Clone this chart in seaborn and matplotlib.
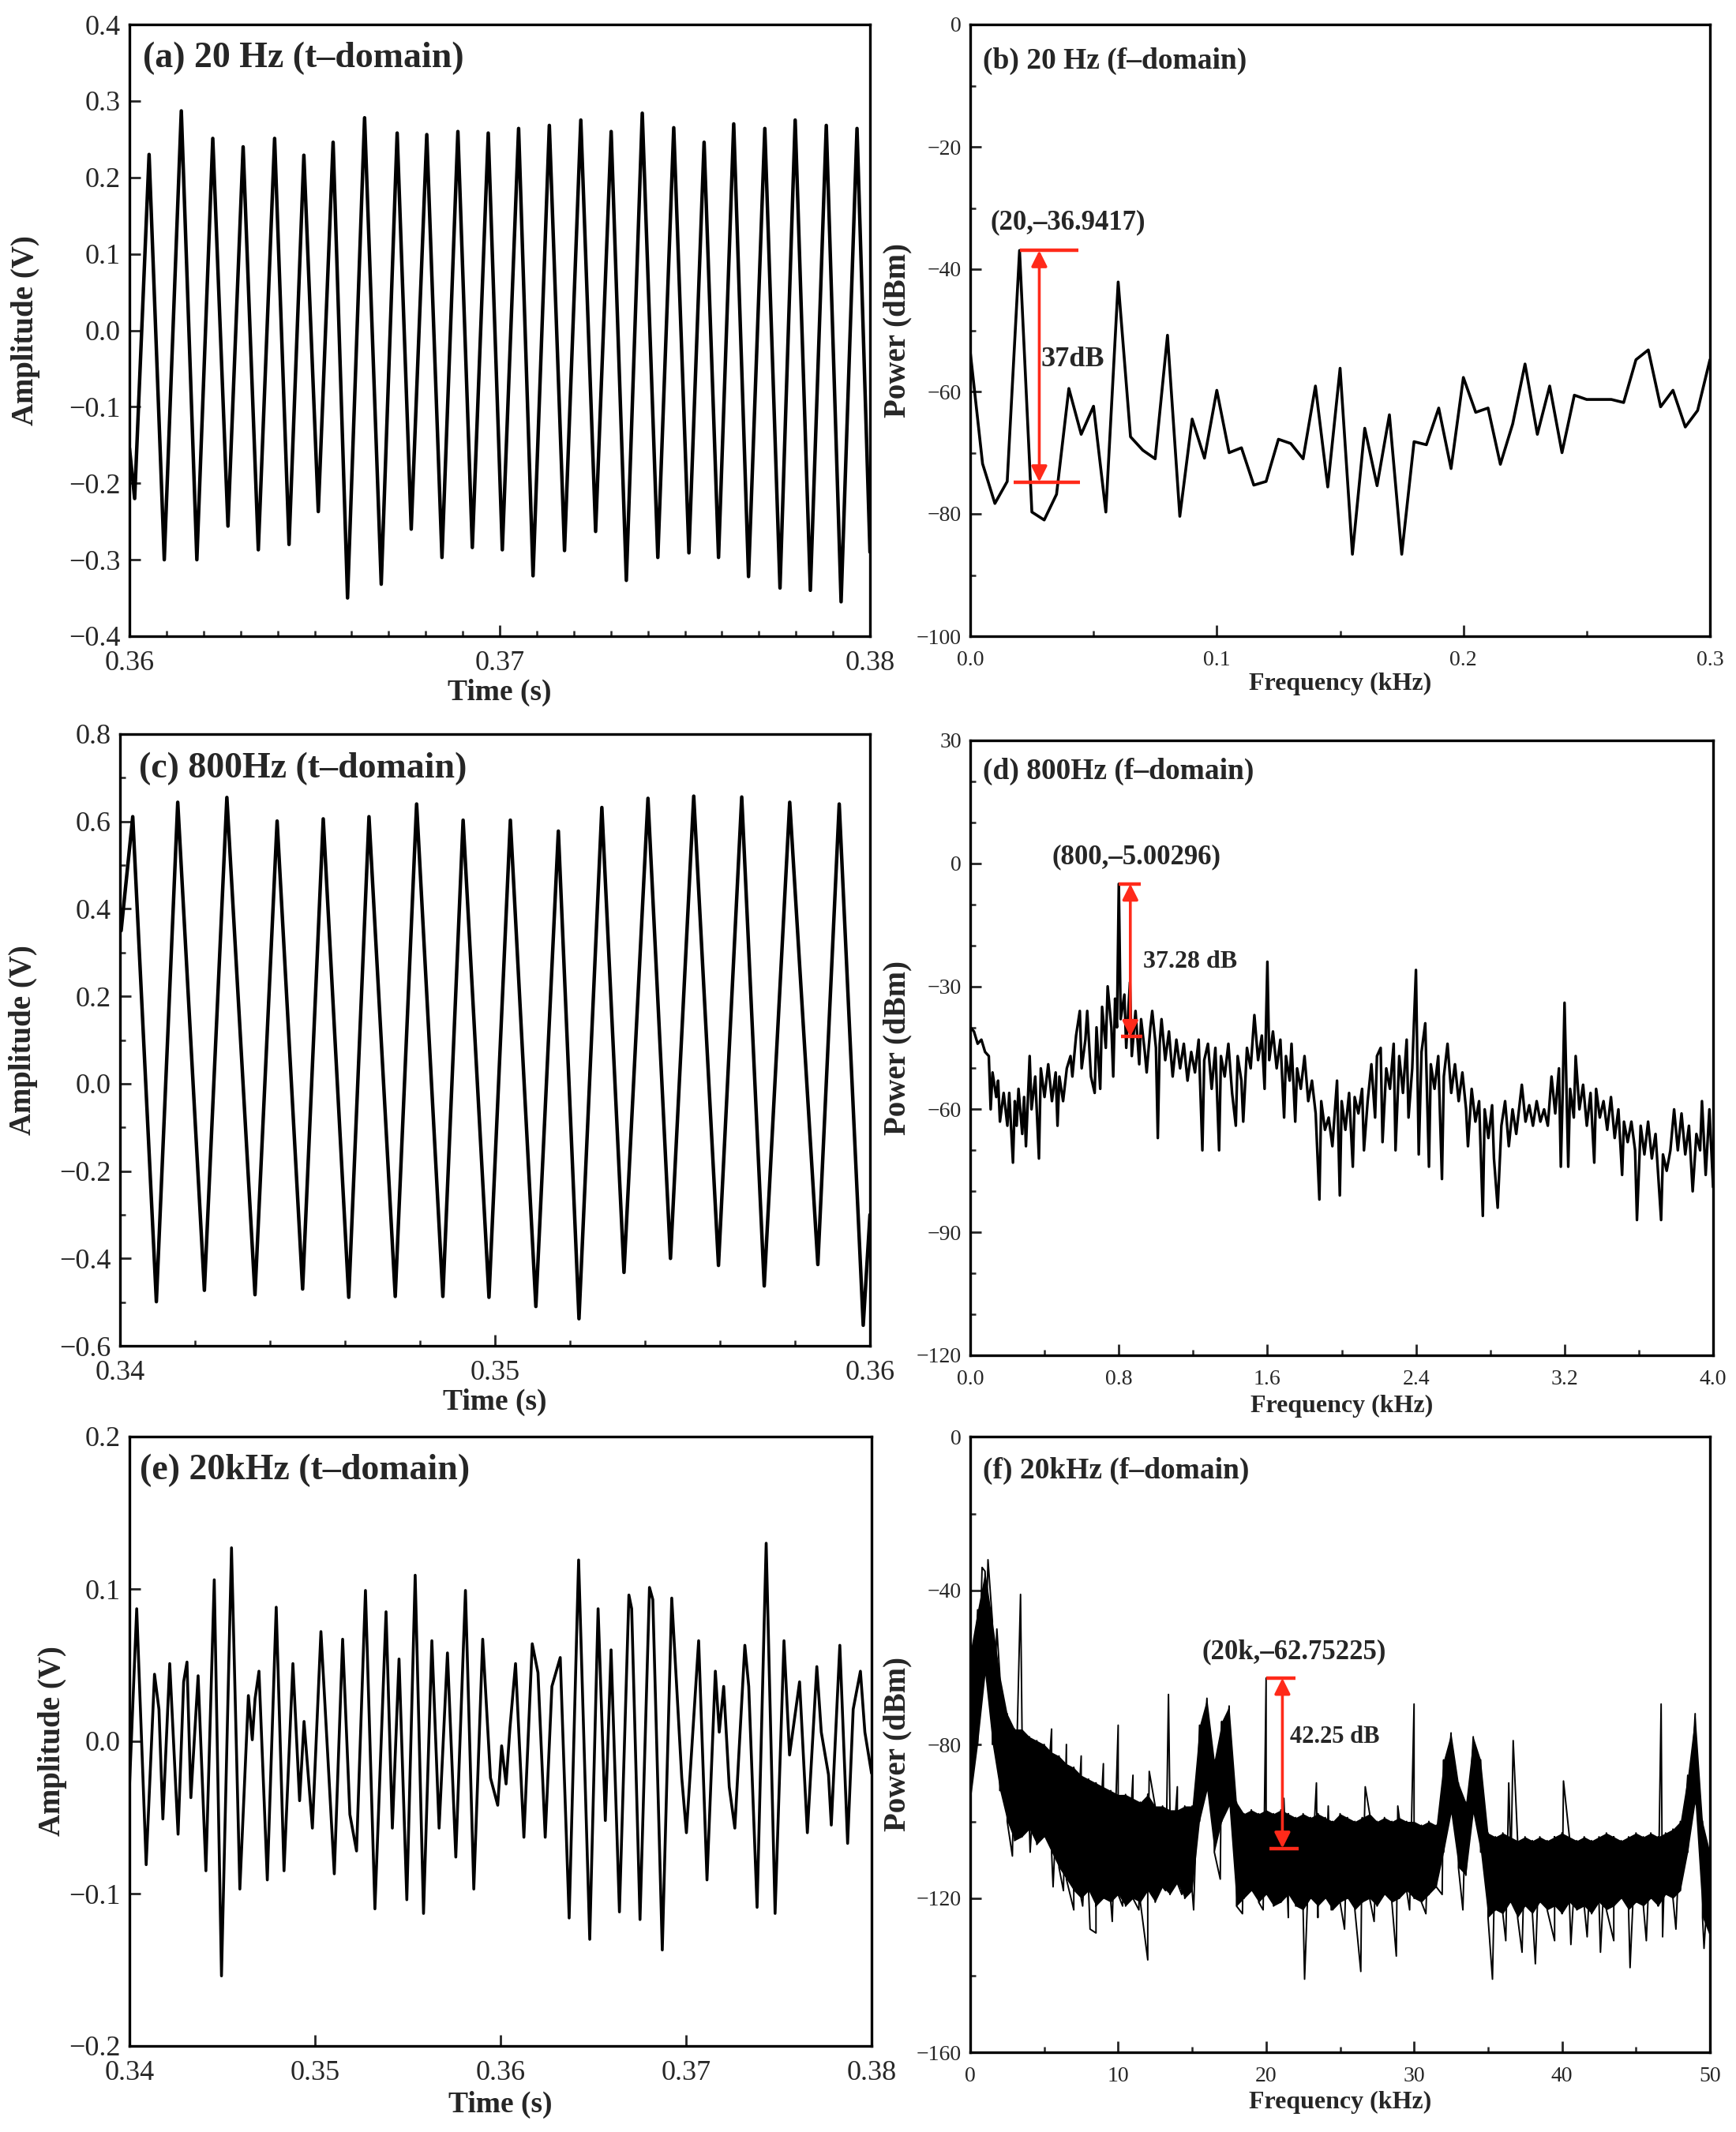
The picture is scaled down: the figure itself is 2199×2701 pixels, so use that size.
import numpy as np
import pandas as pd
import matplotlib
matplotlib.use("Agg")
import matplotlib.pyplot as plt
import seaborn as sns
from matplotlib.ticker import MultipleLocator, FixedLocator, FuncFormatter

# ---------------- data ----------------
# (a) 20 Hz time domain: extrema of the waveform
a_time = [0.36000, 0.36014, 0.36053, 0.36094, 0.36140, 0.36182, 0.36225, 0.36266, 0.36307, 0.36348,
          0.36392, 0.36431, 0.36471, 0.36510, 0.36550, 0.36589, 0.36635, 0.36680, 0.36723, 0.36761,
          0.36803, 0.36844, 0.36887, 0.36926, 0.36969, 0.37007, 0.37051, 0.37090, 0.37134, 0.37175,
          0.37219, 0.37259, 0.37301, 0.37342, 0.37385, 0.37427, 0.37470, 0.37511, 0.37552, 0.37591,
          0.37632, 0.37672, 0.37716, 0.37757, 0.37798, 0.37839, 0.37882, 0.37922, 0.37965, 0.38000]
a_amp = [-0.154, -0.22, 0.23, -0.30, 0.287, -0.30, 0.251, -0.256, 0.24, -0.287,
         0.251, -0.28, 0.229, -0.237, 0.246, -0.35, 0.278, -0.332, 0.258, -0.26,
         0.256, -0.297, 0.26, -0.284, 0.258, -0.287, 0.264, -0.321, 0.268, -0.288,
         0.275, -0.263, 0.26, -0.327, 0.284, -0.297, 0.265, -0.291, 0.246, -0.297,
         0.27, -0.322, 0.264, -0.337, 0.275, -0.34, 0.268, -0.355, 0.264, -0.29]

# (b) 20 Hz spectrum
b_freq = [0.000, 0.005, 0.010, 0.015, 0.020, 0.025, 0.030, 0.035, 0.040, 0.045,
          0.050, 0.055, 0.060, 0.065, 0.070, 0.075, 0.080, 0.085, 0.090, 0.095,
          0.100, 0.105, 0.110, 0.115, 0.120, 0.125, 0.130, 0.135, 0.140, 0.145,
          0.150, 0.155, 0.160, 0.165, 0.170, 0.175, 0.180, 0.185, 0.190, 0.195,
          0.200, 0.205, 0.210, 0.215, 0.220, 0.225, 0.230, 0.235, 0.240, 0.245,
          0.250, 0.255, 0.260, 0.265, 0.270, 0.275, 0.280, 0.285, 0.290, 0.295, 0.300]
b_power = [-53.5, -71.8, -78.3, -74.7, -36.9417, -79.7, -81.0, -76.8, -59.5, -67.0,
           -62.4, -79.7, -42.1, -67.4, -69.6, -71.0, -50.8, -80.4, -64.5, -70.9,
           -59.8, -70.0, -69.2, -75.3, -74.7, -67.8, -68.5, -71.0, -59.1, -75.6,
           -56.2, -86.6, -66.0, -75.4, -63.8, -86.6, -68.2, -68.7, -62.7, -72.6,
           -57.7, -63.4, -62.7, -71.9, -65.3, -55.5, -67.0, -59.1, -70.0, -60.6,
           -61.3, -61.3, -61.3, -61.8, -54.8, -53.2, -62.5, -59.8, -65.8, -63.1, -54.8]

# (c) 800 Hz time domain: extrema of the waveform
c_time = [0.34003, 0.34034, 0.34097, 0.34154, 0.34225, 0.34285, 0.34360, 0.34419, 0.34487, 0.34542,
          0.34610, 0.34664, 0.34734, 0.34791, 0.34861, 0.34915, 0.34984, 0.35041, 0.35109, 0.35169,
          0.35224, 0.35285, 0.35344, 0.35408, 0.35468, 0.35530, 0.35596, 0.35658, 0.35718, 0.35786,
          0.35861, 0.35918, 0.35982, 0.36000]
c_amp = [0.35, 0.611, -0.499, 0.644, -0.473, 0.655, -0.483, 0.601, -0.47, 0.606,
         -0.489, 0.611, -0.487, 0.64, -0.487, 0.603, -0.489, 0.603, -0.51, 0.578,
         -0.538, 0.632, -0.432, 0.653, -0.40, 0.658, -0.416, 0.656, -0.463, 0.644,
         -0.414, 0.64, -0.553, -0.30]

# (d) 800 Hz spectrum
d_freq = [0.00, 0.02, 0.04, 0.06, 0.08, 0.10, 0.11, 0.12, 0.14, 0.15,
          0.16, 0.18, 0.19, 0.20, 0.21, 0.23, 0.24, 0.25, 0.26, 0.28,
          0.29, 0.30, 0.31, 0.32, 0.33, 0.35, 0.37, 0.38, 0.40, 0.42,
          0.44, 0.46, 0.47, 0.48, 0.50, 0.52, 0.54, 0.55, 0.57, 0.59,
          0.60, 0.62, 0.63, 0.65, 0.67, 0.68, 0.70, 0.71, 0.73, 0.74,
          0.76, 0.77, 0.78, 0.79, 0.80, 0.81, 0.83, 0.84, 0.86, 0.87,
          0.89, 0.91, 0.92, 0.94, 0.95, 0.97, 0.98, 1.00, 1.01, 1.02,
          1.03, 1.05, 1.07, 1.09, 1.11, 1.13, 1.15, 1.17, 1.19, 1.21,
          1.23, 1.25, 1.26, 1.28, 1.30, 1.32, 1.34, 1.35, 1.37, 1.39,
          1.41, 1.43, 1.44, 1.46, 1.47, 1.49, 1.51, 1.53, 1.55, 1.57,
          1.585, 1.60, 1.61, 1.63, 1.65, 1.67, 1.69, 1.70, 1.72, 1.73,
          1.75, 1.76, 1.78, 1.80, 1.82, 1.84, 1.86, 1.88, 1.89, 1.91,
          1.93, 1.95, 1.975, 1.99, 2.00, 2.02, 2.04, 2.06, 2.07, 2.09,
          2.11, 2.12, 2.14, 2.16, 2.18, 2.19, 2.21, 2.22, 2.24, 2.26,
          2.28, 2.29, 2.31, 2.33, 2.35, 2.36, 2.38, 2.40, 2.415, 2.43,
          2.45, 2.47, 2.48, 2.50, 2.52, 2.54, 2.55, 2.57, 2.59, 2.61,
          2.63, 2.65, 2.67, 2.68, 2.70, 2.72, 2.74, 2.76, 2.77, 2.79,
          2.81, 2.82, 2.84, 2.86, 2.88, 2.90, 2.92, 2.94, 2.96, 2.97,
          2.99, 3.01, 3.03, 3.05, 3.07, 3.09, 3.11, 3.13, 3.15, 3.17,
          3.18, 3.19, 3.20, 3.22, 3.23, 3.25, 3.26, 3.28, 3.30, 3.32,
          3.34, 3.36, 3.37, 3.39, 3.41, 3.43, 3.45, 3.47, 3.49, 3.51,
          3.52, 3.54, 3.56, 3.58, 3.59, 3.61, 3.63, 3.65, 3.67, 3.69,
          3.72, 3.73, 3.75, 3.77, 3.79, 3.81, 3.83, 3.85, 3.87, 3.89,
          3.91, 3.93, 3.94, 3.96, 3.98, 4.00]
d_power = [-40, -41, -44, -43, -46, -47, -60, -51, -57, -53,
           -63, -56, -60, -64, -56, -73, -58, -64, -55, -66,
           -57, -69, -58, -47, -60, -52, -72, -50, -57, -49,
           -58, -51, -64, -52, -58, -50, -47, -52, -42, -36,
           -50, -43, -36, -52, -56, -40, -55, -35, -45, -30,
           -40, -52, -33, -40, -5.003, -38, -32, -45, -29, -47,
           -36, -49, -38, -46, -51, -40, -36, -45, -67, -44,
           -38, -48, -41, -52, -43, -50, -44, -53, -46, -51,
           -43, -70, -48, -44, -55, -45, -70, -47, -52, -44,
           -56, -64, -47, -53, -63, -45, -50, -37, -48, -42,
           -55, -24, -48, -41, -50, -43, -62, -47, -53, -44,
           -63, -50, -55, -47, -58, -53, -61, -82, -58, -65,
           -62, -69, -53, -81, -58, -65, -56, -74, -57, -61,
           -55, -70, -58, -49, -62, -47, -45, -68, -50, -55,
           -44, -70, -47, -56, -43, -62, -50, -26, -71, -46,
           -39, -74, -49, -55, -47, -77, -52, -44, -56, -49,
           -58, -51, -60, -69, -55, -63, -58, -86, -60, -67,
           -59, -72, -84, -64, -58, -69, -60, -66, -58, -54,
           -63, -59, -64, -58, -63, -60, -64, -52, -61, -50,
           -74, -56, -34, -74, -55, -62, -47, -60, -54, -64,
           -56, -73, -55, -62, -58, -65, -57, -67, -60, -76,
           -63, -68, -63, -70, -87, -64, -71, -63, -72, -66,
           -87, -71, -75, -70, -60, -70, -61, -71, -64, -80,
           -66, -70, -58, -76, -60, -79]

# (e) 20 kHz time domain: extrema of the waveform
e_time = [0.34000, 0.34039, 0.34090, 0.34135, 0.34159, 0.34180, 0.34217, 0.34262, 0.34292, 0.34310,
          0.34331, 0.34370, 0.34412, 0.34457, 0.34496, 0.34550, 0.34595, 0.34641, 0.34662, 0.34677,
          0.34698, 0.34743, 0.34791, 0.34833, 0.34881, 0.34917, 0.34941, 0.34986, 0.35032, 0.35104,
          0.35149, 0.35188, 0.35224, 0.35272, 0.35323, 0.35383, 0.35417, 0.35453, 0.35495, 0.35540,
          0.35585, 0.35630, 0.35669, 0.35714, 0.35759, 0.35811, 0.35856, 0.35904, 0.35946, 0.35985,
          0.36006, 0.36030, 0.36051, 0.36081, 0.36126, 0.36171, 0.36202, 0.36241, 0.36277, 0.36322,
          0.36370, 0.36421, 0.36481, 0.36526, 0.36565, 0.36596, 0.36641, 0.36692, 0.36707, 0.36752,
          0.36803, 0.36821, 0.36872, 0.36923, 0.36977, 0.37002, 0.37068, 0.37113, 0.37158, 0.37179,
          0.37203, 0.37233, 0.37263, 0.37317, 0.37338, 0.37383, 0.37432, 0.37480, 0.37528, 0.37558,
          0.37612, 0.37654, 0.37705, 0.37729, 0.37768, 0.37783, 0.37829, 0.37871, 0.37901, 0.37940,
          0.37964, 0.38000]
e_amp = [-0.03, 0.087, -0.081, 0.044, 0.021, -0.051, 0.051, -0.061, 0.039, 0.052,
         -0.037, 0.043, -0.085, 0.106, -0.154, 0.127, -0.097, 0.03, 0.001, 0.028,
         0.046, -0.091, 0.088, -0.085, 0.051, -0.039, 0.013, -0.057, 0.072, -0.087,
         0.067, -0.048, -0.072, 0.099, -0.11, 0.085, -0.057, 0.054, -0.104, 0.109,
         -0.113, 0.066, -0.057, 0.058, -0.076, 0.099, -0.097, 0.067, -0.024, -0.042,
         -0.003, -0.028, 0.009, 0.051, -0.063, 0.064, 0.045, -0.063, 0.036, 0.055,
         -0.116, 0.119, -0.13, 0.087, -0.052, 0.06, -0.112, 0.096, 0.087, -0.117,
         0.101, 0.093, -0.137, 0.094, -0.024, -0.06, 0.066, -0.091, 0.046, 0.006,
         0.036, -0.03, -0.057, 0.063, 0.036, -0.109, 0.13, -0.113, 0.066, -0.009,
         0.039, -0.06, 0.049, 0.006, -0.022, -0.055, 0.063, -0.067, 0.021, 0.046,
         0.006, -0.021]

# (f) 20 kHz spectrum: upper / lower edge of the dense noise band plus isolated spikes
f_env_freq = [0.0, 0.5, 1.0, 1.5, 2.0, 2.5, 3.0, 3.5, 4.0, 4.5,
              5.0, 5.5, 6.0, 6.5, 7.0, 7.5, 8.0, 8.5, 9.0, 9.5,
              10.0, 10.5, 11.0, 11.5, 12.0, 12.5, 13.0, 13.5, 14.0, 14.5,
              15.0, 15.5, 16.0, 16.5, 17.0, 17.5, 18.0, 18.5, 19.0, 19.5,
              20.0, 20.5, 21.0, 21.5, 22.0, 22.5, 23.0, 23.5, 24.0, 24.5,
              25.0, 25.5, 26.0, 26.5, 27.0, 27.5, 28.0, 28.5, 29.0, 29.5,
              30.0, 30.5, 31.0, 31.5, 32.0, 32.5, 33.0, 33.5, 34.0, 34.5,
              35.0, 35.5, 36.0, 36.5, 37.0, 37.5, 38.0, 38.5, 39.0, 39.5,
              40.0, 40.5, 41.0, 41.5, 42.0, 42.5, 43.0, 43.5, 44.0, 44.5,
              45.0, 45.5, 46.0, 46.5, 47.0, 47.5, 48.0, 48.5, 49.0, 49.5, 50.0]
f_upper = [-56, -45, -35, -48, -62, -72, -76, -76, -78, -79,
           -80, -82, -83, -85, -86, -88, -89, -90, -91, -92,
           -93, -93, -94, -95, -93, -96, -96, -97, -97, -96,
           -96, -75, -68, -84, -74, -70, -95, -98, -97, -98,
           -97, -98, -97, -98, -99, -98, -99, -98, -99, -100,
           -98, -99, -100, -99, -98, -100, -99, -100, -99, -100,
           -100, -101, -100, -101, -84, -77, -90, -95, -78, -84,
           -103, -104, -103, -104, -105, -104, -105, -104, -105, -104,
           -103, -104, -105, -104, -105, -104, -103, -104, -105, -104,
           -103, -104, -103, -104, -103, -102, -100, -88, -72, -100, -108]
f_lower = [-95, -80, -62, -80, -92, -100, -105, -104, -102, -106,
           -104, -108, -112, -115, -118, -120, -118, -122, -120, -121,
           -119, -122, -120, -121, -118, -121, -117, -119, -116, -120,
           -118, -100, -92, -108, -100, -96, -122, -120, -118, -121,
           -119, -122, -121, -119, -122, -123, -120, -122, -120, -123,
           -121, -120, -123, -121, -120, -122, -119, -121, -120, -118,
           -120, -121, -119, -117, -108, -98, -112, -114, -98, -108,
           -125, -123, -124, -121, -125, -122, -124, -121, -123, -122,
           -124, -121, -123, -122, -124, -121, -123, -122, -120, -123,
           -121, -122, -120, -122, -119, -120, -118, -108, -95, -125, -130]
f_spike_freq = [0.8, 1.2, 1.8, 2.85, 3.4, 4.05, 5.5, 5.6, 6.3, 6.5,
                7.0, 7.5, 7.6, 8.1, 8.5, 9.0, 9.6, 10.0, 10.3, 11.0,
                11.4, 12.0, 12.1, 13.2, 13.4, 14.0, 14.3, 15.1, 16.9, 18.4,
                19.8, 20.0, 21.2, 21.5, 22.6, 23.4, 23.5, 24.2, 24.4, 25.3,
                26.4, 26.7, 27.3, 28.8, 28.9, 29.7, 30.0, 30.8, 31.9, 33.3,
                35.3, 36.2, 36.4, 36.7, 37.3, 38.2, 39.5, 40.1, 40.6, 41.7,
                42.6, 43.5, 44.6, 45.7, 46.7, 46.8, 47.7, 49.6]
f_spike_power = [-34, -32, -50, -109, -41, -108, -76, -117, -118, -80,
                 -123, -83, -122, -128, -129, -85, -126, -75, -122, -88,
                 -123, -136, -87, -118, -67, -91, -119, -123, -115, -124,
                 -123, -62.75225, -94, -125, -141, -90, -125, -96, -123, -128,
                 -139, -91, -126, -135, -96, -123, -69.5, -124, -119, -123,
                 -141, -131, -90, -79, -134, -137, -131, -89.5, -132, -130,
                 -134, -131, -138, -131, -69.5, -130, -128, -133]

# annotation values
b_peak = (0.020, -36.9417)
b_floor = -74.8
d_peak = (0.8, -5.00296)
d_floor = -42.28
f_peak = (20.0, -62.75225)
f_floor = -107.0

# ---------------- styling ----------------
sns.set_theme(style="ticks")
plt.rcParams["font.family"] = ["Liberation Serif", "DejaVu Serif"]
plt.rcParams["axes.unicode_minus"] = True

RED = "#ff2a1a"
W, H = 2199, 2701
fig = plt.figure(figsize=(W / 100, H / 100), dpi=100)


def box(l, r, t, b):
    return [l / W, 1 - b / H, (r - l) / W, (b - t) / H]


ax_a = fig.add_axes(box(164, 1102, 31, 806))
ax_b = fig.add_axes(box(1229, 2166, 31, 806))
ax_c = fig.add_axes(box(152, 1102, 930, 1705))
ax_d = fig.add_axes(box(1229, 2170, 938, 1717))
ax_e = fig.add_axes(box(164, 1104, 1820, 2592))
ax_f = fig.add_axes(box(1229, 2166, 1820, 2600))


def fmt(dec):
    def f(v, _):
        s = f"{v:.{dec}f}"
        if float(s) == 0:
            s = f"{0:.{dec}f}"
        return s.replace("-", "\u2212")
    return FuncFormatter(f)


def style(ax, xlim, ylim, xt, yt, xminor, yminor, xdec, ydec, tfs, xlabel, ylabel, lfs, ylfs,
          xpad, ypad, title, tsz, tx, ty):
    ax.set_xlim(*xlim)
    ax.set_ylim(*ylim)
    ax.xaxis.set_major_locator(FixedLocator(xt))
    ax.yaxis.set_major_locator(FixedLocator(yt))
    if xminor:
        ax.xaxis.set_minor_locator(MultipleLocator(xminor))
    if yminor:
        ax.yaxis.set_minor_locator(MultipleLocator(yminor))
    ax.xaxis.set_major_formatter(fmt(xdec))
    ax.yaxis.set_major_formatter(fmt(ydec))
    ax.tick_params(which="major", direction="in", length=10, width=2, labelsize=tfs, pad=8,
                   top=False, right=False)
    ax.tick_params(axis="x", which="major", pad=13)
    ax.tick_params(which="minor", direction="in", length=5, width=1.8, top=False, right=False)
    for s in ax.spines.values():
        s.set_linewidth(2.4)
        s.set_color("black")
    ax.set_xlabel(xlabel, fontsize=lfs, fontweight="bold", labelpad=xpad)
    ax.set_ylabel(ylabel, fontsize=ylfs, fontweight="bold", labelpad=ypad)
    ax.text(tx, ty, title, transform=ax.transAxes, fontsize=tsz, fontweight="bold",
            ha="left", va="center")


def line(ax, x, y, lw):
    sns.lineplot(x=x, y=y, ax=ax, color="black", linewidth=lw, estimator=None,
                 sort=False, legend=False)


def arrow(ax, x, y0, y1):
    ax.annotate("", xy=(x, y0), xytext=(x, y1),
                arrowprops=dict(arrowstyle="<|-|>", color=RED, lw=2.6, mutation_scale=30,
                                shrinkA=0, shrinkB=0))


# (a)
line(ax_a, a_time, a_amp, 3.2)
style(ax_a, (0.36, 0.38), (-0.4, 0.4), [0.36, 0.37, 0.38],
      [-0.4, -0.3, -0.2, -0.1, 0.0, 0.1, 0.2, 0.3, 0.4], 0.001, None, 2, 1, 26,
      "Time (s)", "Amplitude (V)", 27, 28, 2, 26, "(a) 20 Hz (t\u2013domain)", 33, 0.018, 0.945)

# (b)
line(ax_b, b_freq, b_power, 2.6)
style(ax_b, (0.0, 0.3), (-100, 0), [0.0, 0.1, 0.2, 0.3], [-100, -80, -60, -40, -20, 0],
      0.05, 10, 1, 0, 20, "Frequency (kHz)", "Power (dBm)", 23, 28, 2, 4,
      "(b) 20 Hz (f\u2013domain)", 27, 0.017, 0.94)
ax_b.plot([0.0202, 0.044], [b_peak[1], b_peak[1]], color=RED, lw=3.2, solid_capstyle="butt")
ax_b.plot([0.0176, 0.0444], [b_floor, b_floor], color=RED, lw=3.2, solid_capstyle="butt")
arrow(ax_b, 0.028, b_peak[1], b_floor)
ax_b.text(0.0286, -54.8, "37dB", fontsize=26, fontweight="bold", ha="left", va="center")
ax_b.text(0.0396, -32.3, "(20,\u201336.9417)", fontsize=25, fontweight="bold",
          ha="center", va="center")

# (c)
line(ax_c, c_time, c_amp, 3.2)
style(ax_c, (0.34, 0.36), (-0.6, 0.8), [0.34, 0.35, 0.36],
      [-0.6, -0.4, -0.2, 0.0, 0.2, 0.4, 0.6, 0.8], 0.002, 0.1, 2, 1, 26,
      "Time (s)", "Amplitude (V)", 27, 28, 2, 20, "(c) 800Hz (t\u2013domain)", 33, 0.025, 0.944)

# (d)
line(ax_d, d_freq, d_power, 2.4)
style(ax_d, (0.0, 4.0), (-120, 30), [0.0, 0.8, 1.6, 2.4, 3.2, 4.0],
      [-120, -90, -60, -30, 0, 30], 0.4, 10, 1, 0, 20, "Frequency (kHz)", "Power (dBm)", 23, 28,
      5, 4, "(d) 800Hz (f\u2013domain)", 27, 0.017, 0.949)
ax_d.plot([0.80, 0.92], [d_peak[1], d_peak[1]], color=RED, lw=3.2, solid_capstyle="butt")
ax_d.plot([0.81, 0.925], [d_floor, d_floor], color=RED, lw=3.2, solid_capstyle="butt")
arrow(ax_d, 0.862, d_peak[1], d_floor)
ax_d.text(0.93, -24, "37.28 dB", fontsize=23, fontweight="bold", ha="left", va="center")
ax_d.text(0.894, 1.5, "(800,\u20135.00296)", fontsize=25, fontweight="bold",
          ha="center", va="center")

# (e)
line(ax_e, e_time, e_amp, 2.6)
style(ax_e, (0.34, 0.38), (-0.2, 0.2), [0.34, 0.35, 0.36, 0.37, 0.38],
      [-0.2, -0.1, 0.0, 0.1, 0.2], None, None, 2, 1, 26,
      "Time (s)", "Amplitude (V)", 27, 28, 4, 2, "(e) 20kHz (t\u2013domain)", 33, 0.014, 0.944)

# (f)
ax_f.fill_between(f_env_freq, f_upper, f_lower, color="black", lw=0)
zig = pd.DataFrame({
    "freq": list(f_env_freq) + list(f_env_freq) + list(f_spike_freq),
    "power": list(f_upper) + list(f_lower) + list(f_spike_power),
    "order": [2 * i for i in range(len(f_env_freq))] + [2 * i + 1 for i in range(len(f_env_freq))]
             + [0] * len(f_spike_freq),
})
zig = zig.sort_values(["freq", "order"], kind="stable")
line(ax_f, zig["freq"].tolist(), zig["power"].tolist(), 1.4)
style(ax_f, (0, 50), (-160, 0), [0, 10, 20, 30, 40, 50], [-160, -120, -80, -40, 0],
      5, 20, 0, 0, 20, "Frequency (kHz)", "Power (dBm)", 23, 28, 4, 4,
      "(f) 20kHz (f\u2013domain)", 27, 0.017, 0.944)
ax_f.plot([20.0, 22.0], [f_peak[1], f_peak[1]], color=RED, lw=3.2, solid_capstyle="butt")
ax_f.plot([20.25, 22.2], [f_floor, f_floor], color=RED, lw=3.2, solid_capstyle="butt")
arrow(ax_f, 21.1, f_peak[1], f_floor)
ax_f.text(21.6, -78, "42.25 dB", fontsize=22, fontweight="bold", ha="left", va="center")
ax_f.text(21.9, -56, "(20k,\u201362.75225)", fontsize=25, fontweight="bold",
          ha="center", va="center")

fig.savefig("out.png", dpi=100)
